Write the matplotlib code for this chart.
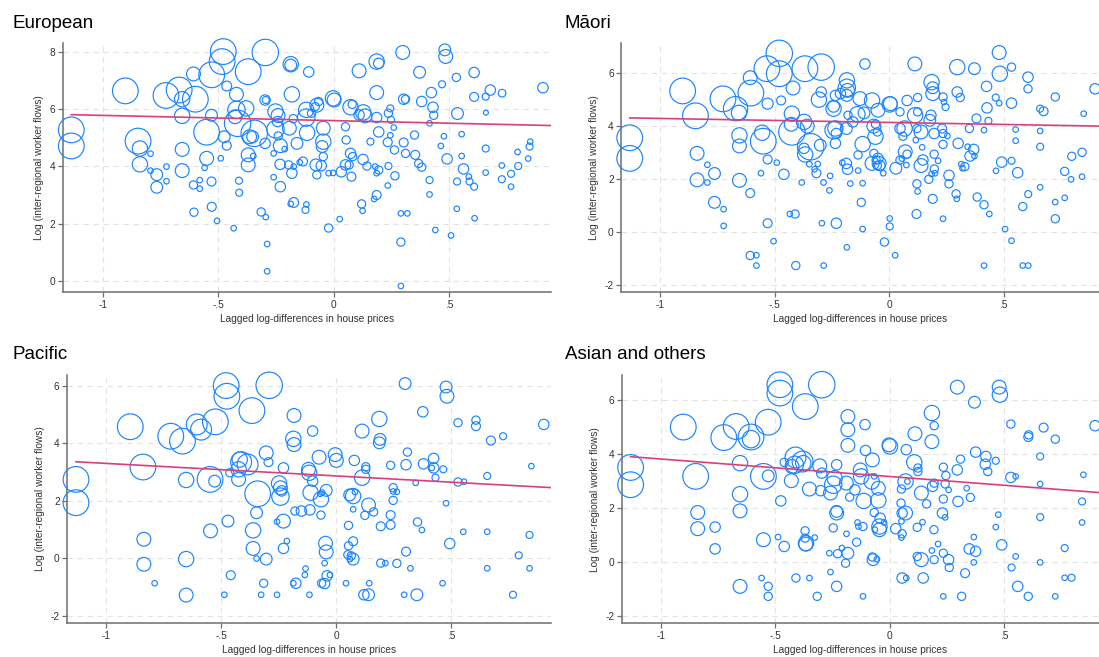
import numpy as np
import matplotlib.pyplot as plt

plt.rcParams['font.family'] = ['Liberation Sans', 'DejaVu Sans']
plt.rcParams['axes.unicode_minus'] = False

# European: x = lagged log-diff house prices, y = log flows, w = bubble weight
eur_x = [-0.478, -0.483, -0.296, -0.370, -0.528, -0.607, -0.902, -0.726, -0.669, -0.656, -0.599, -0.463, -0.421,
         -0.421, -0.379, -0.416, -0.427, -0.529, -0.656, -0.550, -0.474, -0.463, -0.344, -0.351, -0.297, -0.294,
         -0.297, -0.252, -0.241, -0.243, -0.252, -0.240, -0.231, -0.186, -0.186, -0.181, -0.192, -0.175, -0.159,
         -0.108, -0.119, -0.119, -0.096, -0.115, -0.080, -0.073, -0.065, -0.045, -0.045, -0.050, -0.003, 0.002,
         0.051, 0.054, 0.073, 0.080, 0.110, 0.110, 0.128, 0.136, 0.186, 0.186, 0.195, 0.186, 0.195, 0.245, 0.237,
         0.248, 0.260, 0.245, 0.299, 0.303, 0.311, 0.372, 0.381, 0.423, 0.430, 0.433, 0.415, 0.469, 0.481, 0.485,
         0.531, 0.536, 0.608, 0.608, 0.658, 0.678, 0.729, 0.659, 0.906,
         -1.136, -1.136, -0.847, -0.839, -0.839, -0.793, -0.793, -0.724, -0.724, -0.766, -0.766, -0.656, -0.656,
         -0.607, -0.605, -0.580, -0.580, -0.559, -0.550, -0.529, -0.528, -0.505, -0.489, -0.433, -0.410, -0.409,
         -0.370, -0.370, -0.364, -0.348, -0.314, -0.294, -0.288, -0.288, -0.260, -0.260, -0.232, -0.231, -0.212,
         -0.195, -0.181, -0.173, -0.173, -0.186, -0.147, -0.133, -0.118, -0.122, -0.077, -0.073, -0.054, -0.045,
         -0.022, -0.002, -0.022, 0.026, 0.033, 0.051, 0.067, 0.077, 0.073, 0.082, 0.121, 0.125, 0.127, 0.144,
         0.159, 0.180, 0.195, 0.186, 0.186, 0.175, 0.234, 0.237, 0.234, 0.263, 0.265, 0.303, 0.311, 0.291, 0.319,
         0.291, 0.291, 0.350, 0.353, 0.368, 0.381, 0.415, 0.415, 0.464, 0.477, 0.491, 0.440, 0.508, 0.533, 0.554,
         0.554, 0.562, 0.534, 0.585, 0.588, 0.608, 0.610, 0.658, 0.658, 0.728, 0.728, 0.768, 0.768, 0.796, 0.799,
         0.842, 0.848, 0.851]
eur_y = [8.00, 7.65, 7.97, 7.30, 7.19, 7.22, 6.63, 6.47, 6.66, 6.34, 6.34, 6.80, 6.51,
         5.97, 6.02, 5.50, 5.73, 5.78, 5.76, 5.19, 5.03, 4.72, 5.15, 5.03, 6.31, 6.31,
         4.80, 5.91, 5.77, 5.56, 5.29, 5.06, 4.72, 7.56, 7.53, 6.51, 5.33, 5.66, 4.80,
         7.29, 5.97, 5.70, 5.85, 5.17, 6.08, 6.13, 6.26, 5.33, 4.86, 4.69, 6.37, 6.31,
         5.38, 4.92, 6.06, 6.16, 7.33, 5.79, 5.88, 5.76, 6.57, 7.65, 7.59, 5.70, 5.20, 6.02, 5.85,
         5.62, 5.35, 5.08, 7.97, 6.34, 6.34, 7.28, 6.26, 6.57, 6.06, 5.78, 5.50, 6.86, 8.06, 7.83,
         7.10, 5.84, 7.27, 6.42, 6.43, 6.66, 6.55, 5.87, 6.74,
         5.27, 4.71, 4.88, 4.62, 4.07, 4.44, 3.85, 3.99, 3.48, 3.71, 3.27, 4.59, 3.85,
         3.35, 2.40, 3.52, 3.22, 3.95, 4.28, 3.47, 2.59, 2.10, 4.28, 1.84, 3.50, 3.08,
         4.05, 4.40, 5.03, 4.36, 2.41, 2.23, 1.29, 0.34, 3.62, 4.45, 4.07, 3.29, 4.60,
         4.05, 3.76, 2.74, 3.99, 2.69, 4.14, 4.17, 2.67, 2.48, 4.05, 3.70, 4.02, 4.34,
         3.76, 3.77, 1.85, 2.16, 3.81, 4.05, 4.05, 3.64, 4.45, 4.34, 2.69, 2.45, 4.24, 4.01,
         4.86, 3.99, 3.87, 3.76, 3.00, 2.86, 4.84, 4.01, 3.33, 4.57, 3.67, 4.83, 4.45, 2.36, 2.36,
         1.36, -0.17, 5.09, 4.40, 4.10, 3.97, 3.52, 3.02, 4.71, 5.05, 4.26, 1.78, 1.59, 2.52, 5.12,
         4.36, 3.91, 3.47, 3.64, 3.47, 3.29, 2.19, 4.62, 3.78, 4.03, 3.55, 3.74, 3.29, 4.50, 4.01,
         4.27, 4.69, 4.86]
eur_w = [21.4, 21.4, 22.6, 21.4, 21.4, 6.2, 21.4, 21.4, 21.4, 7.6, 21.4, 3.1, 6.2,
         9.8, 7.6, 22.6, 6.2, 4.5, 7.6, 21.4, 4.5, 2.6, 22.6, 4.5, 3.5, 1.6,
         3.5, 7.6, 6.2, 3.5, 9.8, 2.2, 6.2, 7.6, 4.5, 7.6, 6.2, 2.2, 4.5,
         3.5, 7.6, 9.8, 2.2, 7.6, 2.2, 6.2, 2.2, 6.2, 7.6, 4.5, 7.6, 6.2,
         2.2, 2.2, 7.6, 2.2, 6.2, 3.5, 7.6, 6.2, 6.2, 7.6, 3.5, 3.5, 3.5, 1.6, 2.2,
         1.6, 1.0, 1.0, 6.2, 3.5, 2.2, 4.5, 3.5, 3.5, 3.5, 2.2, 1.0, 1.6, 4.5, 6.2,
         2.2, 4.5, 3.5, 2.6, 1.6, 3.5, 1.9, 0.8, 3.5,
         21.4, 21.4, 21.4, 7.6, 7.6, 1.0, 1.0, 1.0, 1.0, 4.5, 4.5, 6.2, 6.2,
         2.2, 2.2, 1.0, 1.0, 1.0, 6.2, 2.6, 2.6, 1.0, 1.0, 1.0, 1.6, 1.6,
         6.2, 6.2, 6.2, 1.0, 2.2, 1.0, 1.0, 1.0, 1.0, 1.0, 3.5, 3.5, 1.0,
         2.2, 3.5, 3.1, 1.0, 1.0, 1.0, 2.6, 1.0, 1.6, 4.5, 2.2, 3.5, 2.2,
         1.0, 1.0, 2.2, 1.0, 3.5, 3.5, 2.2, 2.6, 3.5, 2.2, 2.2, 1.0, 3.5, 2.2,
         1.6, 1.0, 2.2, 1.0, 2.6, 1.0, 2.6, 1.6, 1.0, 2.2, 2.2, 2.6, 2.2, 1.0, 1.0,
         2.2, 1.0, 2.2, 2.6, 2.2, 2.2, 1.6, 1.0, 1.0, 1.0, 3.5, 1.0, 1.0, 1.0, 1.0,
         1.0, 3.5, 1.6, 1.0, 1.6, 1.6, 1.0, 1.6, 1.0, 1.0, 1.6, 1.6, 1.0, 1.0, 1.6,
         1.0, 1.6, 1.0]

mao_x = [-0.480, -0.534, -0.480, -0.368, -0.297, -0.607, -0.604, -0.902, -0.726, -0.671, -0.656, -0.846, -1.133,
         -1.133, -0.531, -0.472, -0.420, -0.425, -0.428, -0.425, -0.372, -0.358, -0.343, -0.367, -0.372, -0.297,
         -0.307, -0.301, -0.555, -0.550, -0.654, -0.654, -0.531, -0.491, -0.560, -0.460, -0.382, -0.349, -0.312,
         -0.318, -0.326, -0.287, -0.261, -0.258, -0.839, -0.794, -0.794, -0.839, -0.763, -0.654, -0.607, -0.763,
         -0.723, -0.723, -0.531, -0.505, -0.607, -0.580, -0.580, -0.434, -0.411, -0.408, -0.294, -0.231, -0.286,
         -0.185, -0.116, -0.122, -0.170, -0.116, -0.213, -0.185, -0.185, -0.182, -0.185, -0.235, -0.243, -0.243,
         -0.235, -0.243, -0.231, -0.235, -0.187, -0.180, -0.128, -0.106, -0.159, -0.139, -0.110, -0.116, -0.136,
         -0.136, -0.187, -0.182, -0.205, -0.075, -0.049, -0.067, -0.060, -0.052, -0.060, -0.067, -0.075, -0.057,
         -0.044, -0.049, -0.052, -0.041, -0.026, 0.002, 0.005, 0.047, 0.078, 0.112, 0.047, 0.060, 0.067, 0.070,
         0.078, 0.047, 0.055, 0.029, 0.075, 0.113, 0.124, 0.124, 0.139, 0.121, 0.116, 0.144, 0.147, 0.139, 0.121,
         0.124, 0.119, 0.177, 0.185, 0.190, 0.190, 0.182, 0.196, 0.196, 0.197, 0.200, 0.173, 0.185, 0.190, 0.235,
         0.239, 0.246, 0.231, 0.235, 0.235, 0.254, 0.213, 0.235, 0.261, 0.261, 0.297, 0.297, 0.310, 0.301, 0.315,
         0.330, 0.320, 0.292, 0.295, 0.350, 0.343, 0.369, 0.372, 0.381, 0.372, 0.353, 0.384, 0.414, 0.414, 0.437,
         0.414, 0.427, 0.425, 0.433, 0.480, 0.483, 0.465, 0.480, 0.534, 0.534, 0.491, 0.466, 0.506, 0.534, 0.534,
         0.552, 0.552, 0.561, 0.583, 0.607, 0.606, 0.606, 0.583, 0.607, 0.659, 0.659, 0.659, 0.674, 0.659, 0.725,
         0.725, 0.725, 0.766, 0.766, 0.797, 0.794, 0.842, 0.842, 0.849, 0.899, -0.021, 0.002, 0.002, 0.026]
mao_y = [6.75, 6.17, 5.98, 6.17, 6.23, 5.83, 5.25, 5.33, 5.03, 4.66, 4.50, 4.39, 3.56,
         2.78, 4.85, 4.97, 5.44, 4.47, 4.07, 3.78, 4.16, 4.00, 3.22, 2.93, 3.16, 5.29,
         5.00, 3.28, 3.75, 3.43, 3.65, 3.25, 2.74, 2.62, 2.22, 2.18, 1.87, 2.56, 2.57,
         2.22, 2.37, 1.87, 1.57, 2.12, 2.97, 2.54, 1.87, 1.97, 2.21, 1.95, 1.47, 1.12,
         0.86, 0.23, 0.33, -0.35, -0.89, -0.88, -1.27, 0.68, 0.68, -1.27, 0.33, 0.33, -1.27,
         -0.58, 0.11, 1.12, 1.83, 1.84, 5.23, 5.73, 5.45, 5.35, 5.16, 5.16, 4.75, 4.66,
         3.91, 3.85, 3.72, 3.35, 3.91, 4.41, 5.04, 6.35, 4.16, 4.45, 4.50, 3.32, 2.91,
         2.32, 2.59, 2.37, 2.62, 4.97, 4.60, 4.00, 4.07, 3.78, 3.60, 2.97, 2.59, 2.72,
         2.59, 2.78, 2.51, 2.51, 2.22, 4.82, 4.85, 4.54, 4.97, 6.35, 3.91, 3.62, 3.91, 3.03,
         2.94, 2.72, 2.77, 2.41, 2.53, 4.41, 4.54, 5.08, 3.78, 3.91, 3.47, 3.20, 2.72, 2.51, 1.82,
         1.53, 0.68, 4.22, 5.66, 5.45, 5.23, 4.41, 3.72, 2.94, 2.38, 2.22, 1.99, 2.19, 1.25, 5.10,
         4.91, 4.72, 3.91, 3.72, 3.31, 3.63, 2.69, 0.50, 2.14, 1.82, 6.23, 5.29, 5.08, 3.35, 2.56,
         2.47, 2.41, 1.44, 1.25, 3.91, 3.22, 3.12, 6.17, 4.29, 2.87, 2.87, 1.32, 1.03, -1.27, 0.68,
         3.85, 4.69, 5.50, 4.20, 6.78, 5.98, 5.08, 4.87, 4.87, 6.23, 2.64, 2.31, 0.11, -0.33, 2.69,
         3.87, 3.45, 2.24, 0.96, 1.43, 5.85, 5.41, -1.27, -1.27, 4.66, 3.22, 3.82, 4.56, 1.69, 5.10,
         1.13, 0.50, 1.29, 2.29, 2.86, 1.99, 3.01, 2.09, 4.47, 5.41, -0.38, 0.21, 0.51, -0.88]
mao_w = [22.6, 21.4, 21.4, 21.4, 22.6, 6.2, 21.4, 21.4, 21.4, 19.1, 7.6, 21.4, 21.4,
         21.4, 4.0, 2.6, 6.2, 7.6, 6.2, 22.6, 7.6, 6.2, 22.6, 7.6, 3.5, 3.5,
         7.6, 4.5, 7.6, 21.4, 7.6, 6.2, 2.6, 1.0, 1.0, 3.5, 1.0, 1.0, 1.0,
         2.6, 1.0, 1.0, 1.0, 1.0, 6.2, 1.0, 1.0, 6.2, 4.5, 6.2, 2.6, 4.5,
         1.0, 1.0, 2.6, 1.0, 2.2, 1.0, 1.0, 1.0, 2.2, 2.2, 1.0, 3.5, 1.0,
         1.0, 1.0, 2.2, 1.0, 1.0, 3.5, 7.6, 9.8, 6.2, 4.5, 3.5, 4.5, 7.6,
         7.6, 9.8, 3.5, 3.5, 4.5, 2.2, 6.2, 3.5, 3.5, 7.6, 4.5, 7.6, 2.2,
         1.0, 3.5, 3.5, 1.0, 7.6, 6.2, 6.2, 2.2, 2.2, 7.6, 2.2, 6.2, 2.2,
         6.2, 3.5, 2.2, 3.5, 1.0, 7.6, 6.2, 2.2, 3.5, 6.2, 3.5, 2.2, 7.6, 6.2,
         2.2, 2.2, 1.0, 4.5, 1.0, 7.6, 2.2, 2.2, 6.2, 2.2, 1.0, 1.0, 3.5, 6.2, 2.2,
         1.0, 2.6, 4.5, 7.6, 4.5, 6.2, 3.5, 3.5, 2.2, 2.2, 1.0, 2.2, 1.0, 2.6, 2.2,
         1.0, 1.6, 2.6, 2.2, 2.2, 1.0, 1.0, 1.0, 3.5, 2.2, 7.6, 3.5, 2.2, 3.5, 1.0,
         2.2, 1.0, 2.2, 1.0, 2.2, 1.0, 3.5, 4.5, 2.6, 1.0, 3.5, 2.2, 2.2, 1.0, 1.0,
         1.0, 3.5, 3.5, 1.6, 6.2, 7.6, 1.6, 1.0, 3.5, 2.2, 3.5, 1.0, 1.0, 1.0, 1.6,
         1.0, 1.0, 3.5, 2.2, 1.6, 3.5, 2.2, 1.0, 1.0, 1.6, 1.6, 1.0, 2.6, 1.0, 2.2,
         1.0, 2.2, 1.0, 2.2, 2.2, 1.0, 2.2, 1.0, 1.0, 3.5, 2.2, 1.6, 1.0, 1.0]

pac_x = [-0.479, -0.476, -0.292, -0.367, -0.526, -0.607, -0.588, -0.896, -0.720, -0.669, -0.841, -1.132, -1.132,
         -0.653, -0.549, -0.529, -0.420, -0.414, -0.386, -0.425, -0.425, -0.463, -0.342, -0.305, -0.295, -0.230,
         -0.249, -0.243, -0.238, -0.243, -0.184, -0.187, -0.184, -0.103, -0.121, -0.118, -0.103, -0.112, -0.075,
         -0.067, -0.044, -0.070, -0.062, -0.005, 0.000, 0.078, 0.112, 0.128, 0.128, 0.112, 0.073, 0.058, 0.081,
         0.073, 0.140, 0.124, 0.162, 0.187, 0.190, 0.187, 0.236, 0.247, 0.247, 0.263, 0.247, 0.236, 0.236, 0.193,
         0.299, 0.309, 0.303, 0.376, 0.379, 0.345, 0.423, 0.423, 0.415, 0.431, 0.465, 0.477, 0.481, 0.529, 0.607,
         0.607, 0.672, 0.725, 0.902, 0.848, 0.656, 0.529, 0.555, 0.477, 0.552, 0.656, 0.840, 0.793, 0.840, 0.656,
         0.768, 0.462, 0.493, 0.353, 0.372, 0.303, 0.322, 0.263, 0.213, 0.193, 0.143, 0.140, 0.120, 0.350, 0.295,
         0.042, 0.053, 0.073, 0.053, 0.050, 0.065, 0.073, 0.059, -0.047, -0.044, -0.051, -0.040, -0.028, -0.051,
         -0.064, -0.117, -0.067, -0.115, -0.134, -0.137, -0.187, -0.176, -0.152, -0.180, -0.230, -0.258, -0.230,
         -0.215, -0.258, -0.305, -0.316, -0.327, -0.347, -0.362, -0.362, -0.347, -0.459, -0.471, -0.487, -0.547,
         -0.653, -0.653, -0.837, -0.837, -0.790]
pac_y = [6.00, 5.63, 6.01, 5.13, 4.74, 4.65, 4.47, 4.57, 4.24, 4.07, 3.17, 2.74, 1.93,
         2.72, 2.74, 2.68, 3.43, 3.34, 3.26, 3.09, 2.74, 2.97, 2.24, 3.66, 3.34, 3.14,
         2.60, 2.45, 2.34, 2.14, 4.96, 4.15, 3.95, 4.42, 3.09, 2.97, 2.68, 2.28, 3.51,
         2.05, 2.36, 2.24, 2.28, 3.60, 3.40, 3.40, 4.42, 3.18, 3.09, 2.80, 2.16, 2.20, 2.30,
         1.70, 1.85, 1.49, 1.61, 4.84, 4.13, 4.01, 3.23, 2.45, 2.32, 2.31, 2.01, 1.50, 1.16, 1.11,
         6.07, 3.69, 3.25, 5.09, 3.28, 2.62, 3.47, 3.14, 3.14, 2.80, 3.09, 5.95, 5.63, 4.71, 4.80,
         4.59, 4.09, 4.24, 4.65, 3.20, 2.86, 2.65, 2.66, 1.91, 0.92, 0.92, 0.81, 0.10, -0.35, -0.35,
         -1.27, -0.87, 0.51, 1.26, 0.98, 0.23, -0.35, -0.18, -0.17, -0.17, -0.87, -1.27, -1.27, -1.27, -1.27,
         -0.87, 1.14, 0.59, 0.43, 0.12, 0.08, -0.03, -0.03, 0.52, 0.22, -0.17, -0.61, -0.58, -0.88,
         -0.87, -1.27, 1.50, 1.68, -0.36, -0.58, -0.87, -0.87, 1.64, 1.64, 1.29, 1.27, 0.34,
         0.60, -1.27, -0.03, -0.87, -1.27, 1.58, 0.97, 0.34, -0.01, -0.59, 1.29, -1.27, 0.95,
         -0.03, -1.28, 0.66, -0.21, -0.87]
pac_w = [21.4, 21.4, 22.6, 21.4, 21.4, 14.1, 14.1, 21.4, 21.4, 21.4, 21.4, 21.4, 21.4,
         7.6, 21.4, 4.5, 7.6, 14.1, 14.1, 7.6, 6.2, 2.2, 21.4, 6.2, 2.6, 3.5,
         7.6, 6.2, 3.5, 9.8, 6.2, 7.6, 6.2, 3.5, 6.2, 7.6, 3.5, 7.6, 6.2,
         7.6, 4.5, 1.0, 1.0, 6.2, 6.2, 3.5, 6.2, 2.2, 2.2, 7.6, 7.6, 4.5, 1.0,
         1.0, 6.2, 2.2, 2.2, 7.6, 4.5, 4.5, 2.2, 2.2, 1.0, 1.0, 2.2, 2.6, 2.6, 2.6,
         4.5, 2.2, 3.5, 3.5, 3.5, 1.0, 3.5, 3.5, 1.0, 1.6, 1.6, 4.5, 6.2, 2.2, 2.2,
         2.6, 2.6, 1.6, 3.5, 1.0, 1.6, 2.2, 1.0, 1.0, 1.0, 1.0, 1.6, 1.6, 1.0, 1.0,
         1.6, 1.0, 3.5, 2.2, 1.0, 2.6, 1.0, 2.2, 1.0, 2.2, 1.0, 4.5, 3.5, 4.5, 1.0,
         1.0, 2.2, 2.6, 2.2, 2.2, 2.2, 4.5, 1.0, 6.2, 6.2, 1.0, 3.5, 1.0, 3.5,
         2.2, 1.0, 2.2, 3.5, 1.0, 1.0, 1.0, 3.5, 3.5, 2.2, 6.2, 1.0, 3.5,
         1.0, 1.0, 4.5, 2.2, 1.0, 4.5, 7.6, 6.2, 1.0, 2.6, 4.5, 1.0, 6.2,
         7.6, 6.2, 6.2, 6.2, 1.0]

asi_x = [-0.479, -0.479, -0.296, -0.368, -0.530, -0.670, -0.724, -0.605, -0.605, -0.901, -0.847, -1.131, -1.131,
         -0.653, -0.653, -0.653, -0.551, -0.530, -0.460, -0.429, -0.411, -0.414, -0.426, -0.377, -0.380, -0.350,
         -0.305, -0.296, -0.301, -0.258, -0.246, -0.231, -0.240, -0.189, -0.182, -0.182, -0.182, -0.174, -0.151,
         -0.128, -0.124, -0.113, -0.107, -0.105, -0.075, -0.067, -0.078, -0.049, -0.049, -0.067, -0.041, -0.044,
         -0.044, -0.064, -0.024, -0.140, -0.136, -0.116, -0.144, -0.188, -0.246, -0.231, -0.231, -0.075, -0.072,
         -0.055, -0.182, -0.192, -0.208, -0.227, -0.263, -0.258, -0.231, -0.116, -0.316, -0.350, -0.409, -0.369,
         -0.369, -0.365, -0.366, -0.327, -0.460, -0.487, -0.551, -0.559, -0.530, -0.530, -0.653, -0.762, -0.762,
         -0.838, -0.838, -0.475, 0.002, -0.002, 0.073, 0.111, 0.108, 0.124, 0.124, 0.070, 0.078, 0.052, 0.050,
         0.055, 0.070, 0.052, 0.027, 0.055, 0.052, 0.121, 0.144, 0.121, 0.139, 0.055, 0.073, 0.147, 0.139, 0.162,
         0.185, 0.195, 0.185, 0.188, 0.195, 0.194, 0.185, 0.195, 0.212, 0.235, 0.246, 0.243, 0.235, 0.231, 0.243,
         0.258, 0.235, 0.258, 0.261, 0.235, 0.296, 0.310, 0.296, 0.299, 0.337, 0.353, 0.330, 0.315, 0.371, 0.376,
         0.368, 0.348, 0.376, 0.368, 0.421, 0.418, 0.429, 0.464, 0.479, 0.482, 0.475, 0.464, 0.490, 0.530, 0.530,
         0.551, 0.533, 0.551, 0.560, 0.606, 0.606, 0.608, 0.658, 0.658, 0.658, 0.658, 0.673, 0.724, 0.724, 0.765,
         0.765, 0.795, 0.841, 0.841, 0.847, 0.898]
asi_y = [6.58, 6.27, 6.58, 5.77, 5.19, 5.03, 4.62, 4.64, 4.56, 5.01, 3.18, 3.51, 2.87,
         3.67, 2.52, 1.90, 3.18, 3.20, 3.70, 3.02, 3.88, 3.61, 3.55, 3.67, 3.73, 2.71,
         3.57, 3.30, 2.65, 2.56, 2.87, 3.61, 3.11, 2.93, 4.33, 4.91, 5.40, 2.41, 2.68,
         3.42, 3.18, 2.27, 5.10, 4.14, 3.79, 3.18, 2.99, 2.74, 2.29, 1.84, 1.63, 1.32,
         1.20, 1.20, 1.47, 1.47, 1.32, 1.32, 0.74, 1.05, 1.27, 1.88, 1.82, 0.19, 0.09,
         0.11, 0.33, -0.04, 0.52, 0.31, 0.33, -0.37, -0.90, -1.27, -1.27, -0.59, -0.59, 1.16,
         0.89, 0.70, 0.67, 0.91, 0.58, 0.93, 0.83, -0.59, -0.90, -1.27, -0.90, 1.30, 0.49,
         1.84, 1.24, 2.27, 4.29, 4.35, 4.17, 4.76, 3.70, 3.49, 3.36, 2.99, 2.99, 2.71, 2.19,
         1.82, 1.82, 1.51, 1.24, 1.05, 0.91, 1.29, 1.48, 0.21, 0.09, -0.59, -0.59, -0.59, 2.56, 2.16,
         5.53, 5.06, 4.47, 2.81, 2.93, 1.20, 0.43, 0.09, 0.67, 3.52, 3.21, 2.90, 2.34, 1.82, 1.66,
         2.68, 0.33, 0.09, -0.20, -1.27, 6.49, 3.82, 3.42, 2.25, 2.74, 2.40, -0.41, -1.27, 5.93, 4.08,
         0.93, 0.49, 0.40, -0.01, 3.92, 3.63, 3.36, 3.76, 6.49, 6.21, 1.76, 1.30, 0.64, 5.12, 3.14,
         3.18, -0.20, 0.21, -0.90, -1.27, 4.64, 4.72, 3.92, 2.90, 1.67, -0.01, 4.99, 4.56, -1.27, 0.52,
         -0.58, -0.58, 2.25, 1.47, 3.24, 5.06]
asi_w = [21.4, 21.4, 22.6, 21.4, 21.4, 21.4, 21.4, 21.4, 9.8, 21.4, 21.4, 21.4, 21.4,
         7.6, 7.6, 6.2, 21.4, 4.5, 2.2, 6.2, 14.1, 9.8, 6.2, 7.6, 14.1, 6.2,
         6.2, 3.5, 3.5, 6.2, 9.8, 3.5, 7.6, 6.2, 6.2, 6.2, 6.2, 2.2, 3.5,
         6.2, 7.6, 7.6, 3.5, 3.5, 6.2, 1.0, 7.6, 6.2, 7.6, 2.2, 3.5, 7.6,
         6.2, 1.0, 1.0, 1.0, 1.0, 2.2, 2.2, 1.0, 2.2, 4.5, 6.2, 2.2, 4.5,
         1.0, 4.5, 2.2, 1.0, 2.2, 1.0, 1.0, 3.5, 1.0, 2.2, 1.0, 2.2, 2.2,
         2.2, 7.6, 6.2, 1.0, 3.5, 1.0, 6.2, 1.0, 2.2, 2.2, 6.2, 3.5, 3.5,
         6.2, 6.2, 3.5, 7.6, 6.2, 3.5, 6.2, 7.6, 2.2, 2.2, 7.6, 1.0, 2.2, 2.2,
         3.5, 6.2, 1.0, 3.5, 2.2, 1.0, 2.2, 1.0, 2.2, 6.2, 3.5, 1.0, 3.5, 6.2, 2.2,
         7.6, 2.2, 6.2, 3.5, 2.2, 2.2, 1.0, 2.2, 1.0, 2.2, 2.2, 2.2, 2.2, 3.5, 1.0,
         1.0, 2.2, 3.5, 2.2, 1.0, 6.2, 2.2, 3.5, 3.5, 1.0, 2.2, 2.6, 2.2, 4.5, 3.5,
         1.0, 3.5, 3.5, 1.0, 3.5, 3.5, 2.2, 1.6, 6.2, 7.6, 1.0, 1.0, 3.5, 2.2, 3.5,
         1.0, 1.6, 1.0, 3.5, 2.2, 2.6, 2.2, 1.6, 1.0, 1.6, 1.0, 2.6, 2.2, 1.0, 1.6,
         1.0, 1.6, 1.6, 1.0, 1.0, 3.5]

# linear fit (intercept, slope) per group
fits = {'European': (5.593, -0.182), 'Māori': (4.139, -0.151),
        'Pacific': (2.860, -0.435), 'Asian and others': (3.175, -0.650)}

blue = '#1a85ff'
red = '#d94079'

fig = plt.figure(figsize=(10.99, 6.57), dpi=100)

panels = [
    ('European', eur_x, eur_y, eur_w, [0.0571, 0.5556, 0.4443, 0.3790], (-1.173, 0.941), (-0.38, 8.3), [0, 2, 4, 6, 8], (12, 28)),
    ('Māori', mao_x, mao_y, mao_w, [0.5653, 0.5551, 0.4347, 0.3790], (-1.17, 0.916), (-2.28, 7.13), [-2, 0, 2, 4, 6], (565, 28)),
    ('Pacific', pac_x, pac_y, pac_w, [0.0612, 0.0518, 0.4401, 0.3775], (-1.17, 0.933), (-2.25, 6.37), [-2, 0, 2, 4, 6], (12, 359)),
    ('Asian and others', asi_x, asi_y, asi_w, [0.5657, 0.0513, 0.4343, 0.3775], (-1.17, 0.915), (-2.27, 6.93), [-2, 0, 2, 4, 6], (565, 359)),
]

for title, x, y, w, pos, xl, yl, yt, tpos in panels:
    ax = fig.add_axes(pos)
    ax.scatter(x, y, s=np.array(w) * 16, facecolors='none', edgecolors=blue, linewidths=0.85,
               zorder=3, clip_on=False)
    a, b = fits[title]
    xs = np.array([min(x), 1.0])
    ax.plot(xs, a + b * xs, color=red, linewidth=1.2, zorder=4)
    ax.set_xlim(xl)
    ax.set_ylim(yl)
    ax.set_xticks([-1, -0.5, 0, 0.5])
    ax.set_xticklabels(['-1', '-.5', '0', '.5'])
    ax.set_yticks(yt)
    ax.grid(True, color='#e3e3e3', linestyle=(0, (5, 4)), linewidth=0.8)
    ax.set_axisbelow(True)
    for s in ['top', 'right']:
        ax.spines[s].set_visible(False)
    for s in ['left', 'bottom']:
        ax.spines[s].set_color('#6e6e6e')
        ax.spines[s].set_linewidth(1.1)
    ax.tick_params(colors='#6e6e6e', labelcolor='#333333', labelsize=7.3, length=3.5, width=0.9, pad=2)
    ax.set_xlabel('Lagged log-differences in house prices', fontsize=7.3, color='#333333', labelpad=3)
    ax.set_ylabel('Log (inter-regional worker flows)', fontsize=7.3, color='#333333', labelpad=4)
    fig.text(tpos[0] / 1099, 1 - tpos[1] / 657, title, fontsize=13.5, color='black', va='baseline', ha='left')

fig.savefig('out.png', dpi=100)
